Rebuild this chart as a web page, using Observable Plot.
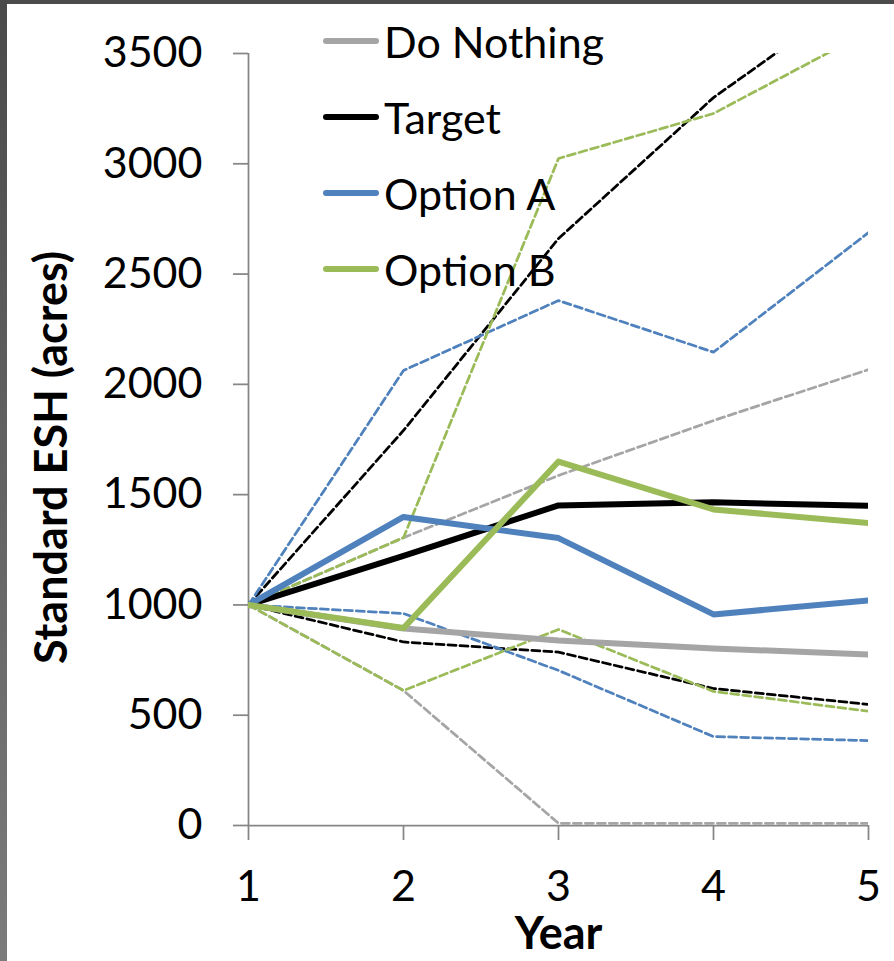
<!DOCTYPE html>
<html><head><meta charset="utf-8">
<script src="https://cdn.jsdelivr.net/npm/d3@7"></script>
<script src="https://cdn.jsdelivr.net/npm/@observablehq/plot@0.6"></script>
<style>
html,body{margin:0;padding:0;background:#fff;}
#wrap{position:relative;width:894px;height:961px;overflow:hidden;font-family:Lato,sans-serif;background:#fff;}
#wrap svg{position:absolute;left:0;top:0;}
.band-top{position:absolute;left:0;top:0;width:894px;height:4px;background:#4b4b4b;}
.band-left{position:absolute;left:0;top:0;width:7px;height:961px;background:linear-gradient(#4a4a4a,#7b7b7b);}
.legend{position:absolute;left:323px;top:0;}
.legend .row{position:absolute;left:0;display:flex;align-items:center;white-space:nowrap;height:50px;}
.legend .sw{width:56px;height:6px;border-radius:3px;margin-right:5px;}
.legend .lab{font-size:43px;color:#000;}
</style></head><body><div id="wrap"></div>
<script>
const years = [1, 2, 3, 4, 5];
const seriesNames = ["Do Nothing", "Target", "Option A", "Option B"];
const seriesColors = ["#A5A5A5", "#000000", "#4F81BD", "#9BBB59"];
// central projections (solid)
const doNothing = [1000, 893, 839, 803, 775];
const target    = [1000, 1222, 1451, 1465, 1450];
const optionA   = [1000, 1399, 1303, 957, 1020];
const optionB   = [1000, 895, 1650, 1433, 1371];
// upper bounds (dashed)
const doNothingHigh = [1000, 1305, 1587, 1836, 2067];
const targetHigh    = [1000, 1791, 2661, 3300, 3800];
const optionAHigh   = [1000, 2063, 2380, 2146, 2688];
const optionBHigh   = [1000, 1305, 3024, 3228, 3600];
// lower bounds (dashed)
const doNothingLow = [1000, 612, 10, 10, 10];
const targetLow    = [1000, 832, 786, 621, 549];
const optionALow   = [1000, 961, 703, 403, 385];
const optionBLow   = [1000, 612, 889, 608, 518];

const yTicks = [0, 500, 1000, 1500, 2000, 2500, 3000, 3500];
const xTicks = [1, 2, 3, 4, 5];
const yLabel = "Standard ESH (acres)";
const xLabel = "Year";

const central = [doNothing, target, optionA, optionB];
const highs = [doNothingHigh, targetHigh, optionAHigh, optionBHigh];
const lows = [doNothingLow, targetLow, optionALow, optionBLow];

const rows = (vals) => years.map((x, i) => ({x, y: vals[i]}));

const dashedMarks = [];
seriesNames.forEach((n, i) => {
  [highs[i], lows[i]].forEach(v => {
    dashedMarks.push(Plot.line(rows(v), {x: "x", y: "y", stroke: seriesColors[i], strokeWidth: 2.75, strokeDasharray: "8,4", clip: true}));
  });
});
const solidMarks = seriesNames.map((n, i) =>
  Plot.line(rows(central[i]), {x: "x", y: "y", stroke: seriesColors[i], strokeWidth: 6, clip: true}));

const axisColor = "#868686";
const chart = Plot.plot({
  width: 894, height: 961,
  marginLeft: 248, marginRight: 26, marginTop: 53, marginBottom: 136,
  x: {domain: [1, 5]},
  y: {domain: [0, 3500]},
  style: {fontFamily: "Lato, sans-serif", fontSize: "43px", background: "white", color: "black", overflow: "visible"},
  marks: [
    Plot.axisY(yTicks, {tickSize: 15, tickPadding: 31, stroke: axisColor, strokeWidth: 1.75, fill: "black", fontSize: 43, label: null, tickFormat: d => String(d)}),
    Plot.axisX(xTicks, {tickSize: 15, tickPadding: 30, stroke: axisColor, strokeWidth: 1.75, fill: "black", fontSize: 43, label: null, tickFormat: d => String(d)}),
    Plot.ruleX([1], {stroke: axisColor, strokeWidth: 1.75}),
    Plot.ruleY([0], {stroke: axisColor, strokeWidth: 1.75}),
    ...dashedMarks,
    ...solidMarks,
    Plot.text([yLabel], {text: d => d, frameAnchor: "left", textAnchor: "middle", rotate: -90, dx: -196, dy: 18, fontSize: 45, fontWeight: "bold", fill: "black"}),
    Plot.text([xLabel], {text: d => d, frameAnchor: "bottom", lineAnchor: "top", dy: 92, fontSize: 45, fontWeight: "bold", fill: "black"})
  ]
});
const wrap = document.getElementById("wrap");
wrap.appendChild(chart);

// legend overlay
const legendCenters = [41, 117, 193, 269];
const leg = document.createElement("div");
leg.className = "legend";
seriesNames.forEach((n, i) => {
  const r = document.createElement("div");
  r.className = "row";
  r.style.top = (legendCenters[i] - 25) + "px";
  const sw = document.createElement("div");
  sw.className = "sw";
  sw.style.background = seriesColors[i];
  const lab = document.createElement("span");
  lab.className = "lab";
  lab.textContent = n;
  r.appendChild(sw); r.appendChild(lab);
  leg.appendChild(r);
});
wrap.appendChild(leg);
["band-top", "band-left"].forEach(c => { const d = document.createElement("div"); d.className = c; wrap.appendChild(d); });
</script></body></html>
